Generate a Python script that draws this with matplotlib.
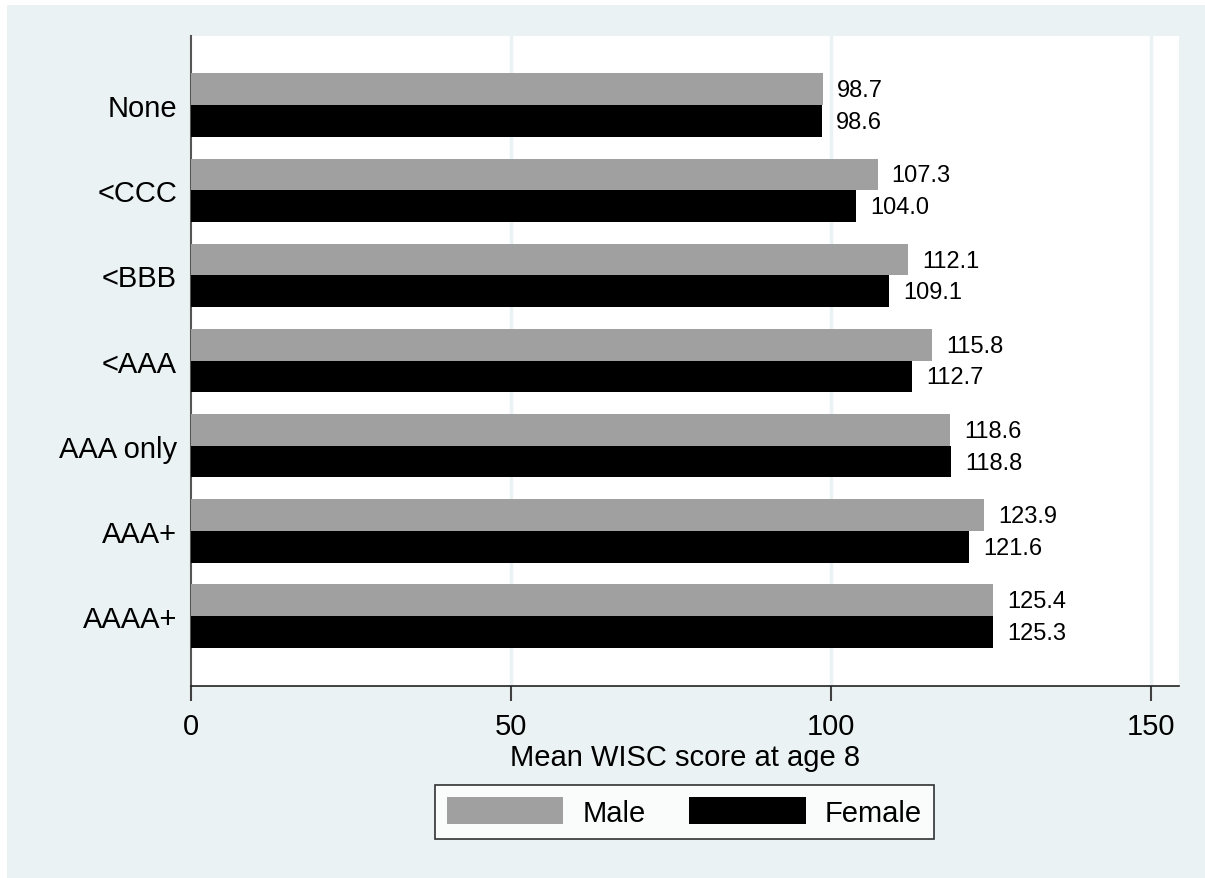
import matplotlib
matplotlib.use('Agg')
import matplotlib.pyplot as plt
import numpy as np
from matplotlib.patches import Rectangle

# data
categories = ['None', '<CCC', '<BBB', '<AAA', 'AAA only', 'AAA+', 'AAAA+']
male = [98.7, 107.3, 112.1, 115.8, 118.6, 123.9, 125.4]
female = [98.6, 104.0, 109.1, 112.7, 118.8, 121.6, 125.3]
xticks = [0, 50, 100, 150]

BG = '#EAF2F3'
GREY = '#A0A0A0'

plt.rcParams['font.family'] = ['Liberation Sans', 'DejaVu Sans']

fig = plt.figure(figsize=(12.05, 8.79), dpi=100, facecolor='white')
# light bluish background band (leaves a thin white border top/left)
fig.patches.append(Rectangle((7 / 1205, 0), 1, 1 - 6 / 879, transform=fig.transFigure,
                             facecolor=BG, edgecolor='none', zorder=-10))

ax = fig.add_axes([191 / 1205, 1 - 687 / 879, 988 / 1205, 650 / 879])
ax.set_facecolor('white')

y = np.arange(len(categories))
h = 0.372
ax.barh(y - h / 2, male, height=h, color=GREY, label='Male', zorder=3)
ax.barh(y + h / 2, female, height=h, color='black', label='Female', zorder=3)

for yi, m, f in zip(y, male, female):
    ax.annotate(f'{m:.1f}', (m, yi - h / 2), xytext=(14, -1), textcoords='offset pixels',
                va='center', ha='left', fontsize=17)
    ax.annotate(f'{f:.1f}', (f, yi + h / 2), xytext=(14, -1), textcoords='offset pixels',
                va='center', ha='left', fontsize=17)

ax.set_xlim(0, 154.4)
ax.set_ylim(6.82, -0.81)
ax.set_yticks(y)
ax.set_yticklabels(categories, fontsize=21)
ax.tick_params(axis='y', length=0, pad=10)
ax.set_xticks(xticks)
ax.set_xticklabels([str(t) for t in xticks], fontsize=21)
ax.tick_params(axis='x', length=11, width=1.5, color='#404040', pad=8)

for t in xticks[1:]:
    ax.axvline(t, color=BG, lw=2.5, zorder=1)

for s in ['top', 'right']:
    ax.spines[s].set_visible(False)
ax.spines['left'].set_color('#555555')
ax.spines['left'].set_linewidth(1.5)
ax.spines['bottom'].set_color('#222222')
ax.spines['bottom'].set_linewidth(1.2)

ax.set_xlabel('Mean WISC score at age 8', fontsize=21, labelpad=2)

leg = fig.legend(loc='center', bbox_to_anchor=(684.5 / 1205, 1 - 813 / 879), ncol=2,
                 fontsize=21, frameon=True, fancybox=False, edgecolor='black',
                 handlelength=4.0, handleheight=1.05, handletextpad=0.65,
                 columnspacing=1.5, borderpad=0.42, borderaxespad=0)
leg.get_frame().set_linewidth(1.2)

fig.savefig('out.png', dpi=100, facecolor='white')
